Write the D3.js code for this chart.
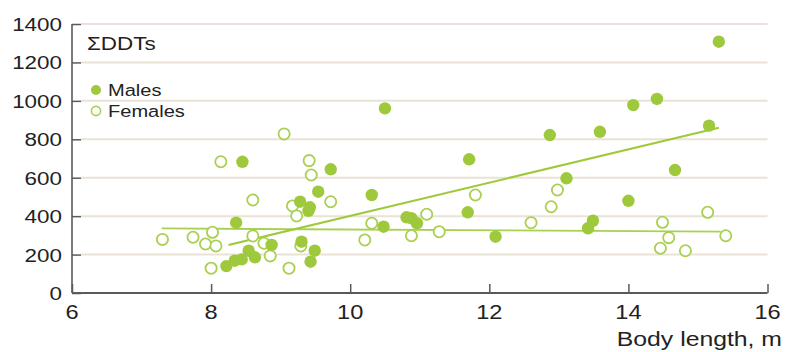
<!DOCTYPE html>
<html>
<head>
<meta charset="utf-8">
<script src="https://cdn.jsdelivr.net/npm/d3@7"></script>
<style>
  html, body { margin: 0; padding: 0; background: #ffffff; }
  svg { display: block; }
  text { font-family: "Liberation Sans", Arial, sans-serif; fill: #222; }
</style>
</head>
<body>
<svg id="chart" width="785" height="352"></svg>
<script>
// ΣDDT concentration against body length, males and females
const maleLength = [8.22, 8.34, 8.44, 8.54, 8.63, 8.36, 8.45, 8.87, 9.30, 9.43, 9.49, 9.28, 9.42, 9.40, 9.54, 9.72,
  10.31, 10.48, 10.50, 10.81, 10.88, 10.96, 11.69, 11.71, 12.09, 12.87, 13.11, 13.42, 13.49, 13.59, 14.00, 14.07,
  14.41, 14.67, 15.16, 15.30];
const maleDDT = [140, 168, 175, 220, 186, 366, 683, 250, 267, 163, 220, 475, 446, 428, 527, 644,
  510, 345, 961, 394, 389, 363, 420, 696, 293, 822, 597, 337, 376, 839, 480, 978,
  1010, 640, 871, 1308];

const femaleLength = [7.30, 7.74, 7.92, 8.00, 8.02, 8.07, 8.14, 8.60, 8.60, 8.76, 8.85, 9.05, 9.12, 9.17, 9.23, 9.29,
  9.41, 9.44, 9.72, 10.21, 10.31, 10.88, 11.10, 11.28, 11.80, 12.60, 12.89, 12.98, 14.46, 14.49, 14.58, 14.82,
  15.14, 15.40];
const femaleDDT = [279, 290, 255, 129, 316, 245, 683, 484, 297, 259, 193, 828, 129, 453, 401, 245,
  689, 614, 475, 276, 363, 298, 410, 319, 510, 366, 449, 536, 233, 368, 288, 220,
  420, 298];

// fitted trend lines: [length, ΣDDT] at each end
const maleFitLength = [8.25, 15.30];
const maleFitDDT = [250, 860];
const femaleFitLength = [7.29, 15.33];
const femaleFitDDT = [336, 319];

const xTicks = [6, 8, 10, 12, 14, 16];
const yTicks = [0, 200, 400, 600, 800, 1000, 1200, 1400];
const legendLabels = ["Males", "Females"];
const panelTitle = "ΣDDTs";
const xTitle = "Body length, m";

const green = "#9fc93c";
const greenLight = "#a9d053";
const gridColor = "#ebe2d6";
const axisColor = "#5a5a5a";
const stretch = 1.18;

const svg = d3.select("#chart");
const x = d3.scaleLinear().domain([6, 16]).range([72, 767.5]);
const y = d3.scaleLinear().domain([0, 1400]).range([293, 24]);

// horizontally widened text anchored at (px, py)
function wideText(parent, px, py, str, size, anchor) {
  return parent.append("g")
    .attr("transform", `translate(${px},${py}) scale(${stretch},1)`)
    .append("text")
    .attr("x", 0).attr("y", 0)
    .attr("text-anchor", anchor)
    .style("font-size", size + "px")
    .text(str);
}

// gridlines
svg.append("g").selectAll("line")
  .data(yTicks.filter(d => d > 0))
  .join("line")
  .attr("x1", x(6) + 9).attr("x2", x(16))
  .attr("y1", d => y(d)).attr("y2", d => y(d))
  .attr("stroke", d => d === 1400 ? "#f0dede" : gridColor)
  .attr("stroke-width", 2);

// y axis with inward ticks
const yAxis = svg.append("g")
  .attr("transform", `translate(${x(6)},0)`)
  .call(d3.axisRight(y).tickValues(yTicks).tickSize(9).tickFormat(""));
yAxis.select(".domain").remove();
yAxis.selectAll(".tick line").attr("stroke", axisColor).attr("stroke-width", 1.5);
svg.append("line")
  .attr("x1", x(6)).attr("x2", x(6))
  .attr("y1", y(1400)).attr("y2", y(0))
  .attr("stroke", axisColor).attr("stroke-width", 1.6);
yTicks.forEach(t => wideText(svg, x(6) - 10, y(t) + 7, String(t), 19, "end"));

// x axis with inward ticks
const xAxis = svg.append("g")
  .attr("transform", `translate(0,${y(0)})`)
  .call(d3.axisTop(x).tickValues(xTicks).tickSize(9).tickFormat(""));
xAxis.select(".domain").remove();
xAxis.selectAll(".tick line").attr("stroke", axisColor).attr("stroke-width", 1.5);
svg.append("line")
  .attr("x1", x(6)).attr("x2", x(16))
  .attr("y1", y(0)).attr("y2", y(0))
  .attr("stroke", axisColor).attr("stroke-width", 2);
xTicks.forEach(t => wideText(svg, x(t), 319, String(t), 20, "middle"));
wideText(svg, 782, 346, xTitle, 21, "end");

// trend lines
const line = d3.line().x(d => x(d[0])).y(d => y(d[1]));
svg.append("path")
  .datum(femaleFitLength.map((v, i) => [v, femaleFitDDT[i]]))
  .attr("d", line).attr("fill", "none")
  .attr("stroke", greenLight).attr("stroke-width", 1.8);
svg.append("path")
  .datum(maleFitLength.map((v, i) => [v, maleFitDDT[i]]))
  .attr("d", line).attr("fill", "none")
  .attr("stroke", green).attr("stroke-width", 2);

// females: open circles
svg.append("g").selectAll("circle")
  .data(femaleLength.map((v, i) => [v, femaleDDT[i]]))
  .join("circle")
  .attr("cx", d => x(d[0])).attr("cy", d => y(d[1]))
  .attr("r", 5.6)
  .attr("fill", "#ffffff")
  .attr("stroke", greenLight).attr("stroke-width", 1.8);

// males: filled circles
svg.append("g").selectAll("circle")
  .data(maleLength.map((v, i) => [v, maleDDT[i]]))
  .join("circle")
  .attr("cx", d => x(d[0])).attr("cy", d => y(d[1]))
  .attr("r", 6.2)
  .attr("fill", green);

// panel title
wideText(svg, 87, 50, panelTitle, 19, "start");

// legend
const legend = svg.append("g");
legend.append("circle").attr("cx", 96).attr("cy", 90).attr("r", 5).attr("fill", green);
legend.append("circle").attr("cx", 96).attr("cy", 111).attr("r", 4.6)
  .attr("fill", "#fff").attr("stroke", greenLight).attr("stroke-width", 1.6);
wideText(legend, 108, 96, legendLabels[0], 17, "start");
wideText(legend, 108, 117, legendLabels[1], 17, "start");
</script>
</body>
</html>
